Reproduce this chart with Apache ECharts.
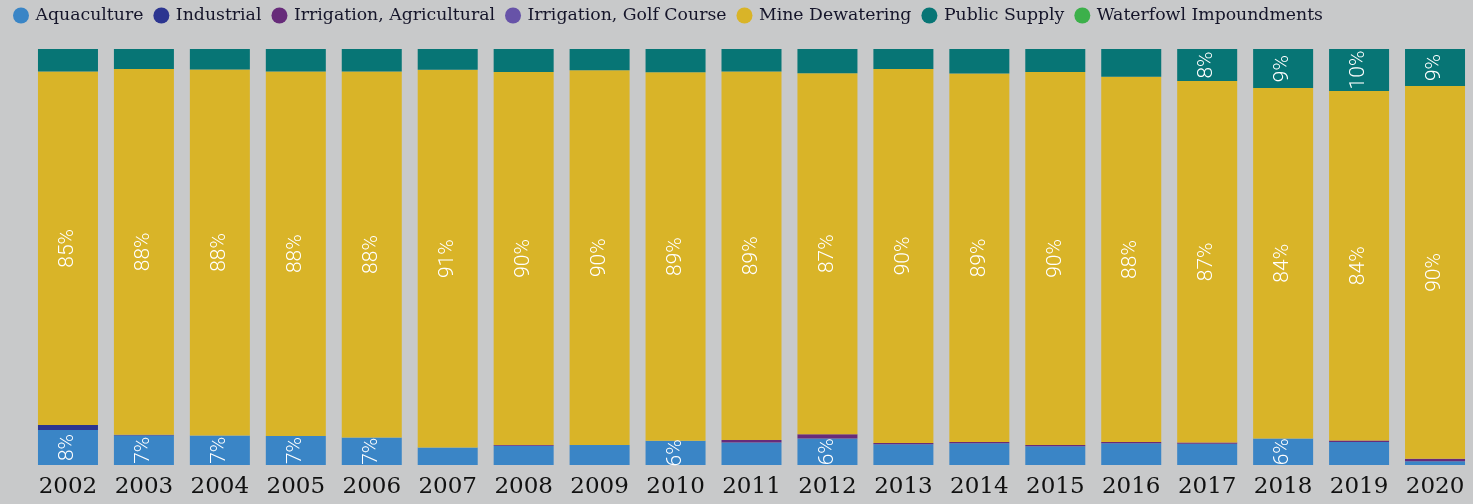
<!DOCTYPE html>
<html>
<head>
<meta charset="utf-8">
<script src="https://cdn.jsdelivr.net/npm/echarts@6/dist/echarts.min.js"></script>
<style>
html,body{margin:0;padding:0;background:#c8c9ca;}
#chart{width:1473px;height:504px;}
</style>
</head>
<body>
<div id="chart"></div>
<script>
const years = ['2002','2003','2004','2005','2006','2007','2008','2009','2010','2011','2012','2013','2014','2015','2016','2017','2018','2019','2020'];
const seriesNames = ['Aquaculture','Industrial','Irrigation, Agricultural','Irrigation, Golf Course','Mine Dewatering','Public Supply','Waterfowl Impoundments'];
// percent share of each use per year
const aquaculture   = [8.4,7.1,7.1,7.0,6.6,4.2,4.6,4.8,5.8,5.4,6.4,5.0,5.2,4.5,5.2,5.1,6.4,5.5,0.9];
const industrial    = [1.2,0.2,0,0,0,0,0,0,0,0,0,0,0,0,0,0,0,0,0];
const irrigationAg  = [0,0,0,0,0,0,0.2,0,0,0.6,1.0,0.3,0.3,0.3,0.3,0.3,0,0.4,0.6];
const irrigationGolf= [0,0,0,0,0,0,0,0,0,0,0,0,0,0,0,0,0,0,0];
const mineDewatering= [85.0,87.9,88.0,87.6,88.0,90.8,89.7,90.1,88.6,88.6,86.8,89.9,88.6,89.7,87.8,86.9,84.2,84.0,89.6];
const publicSupply  = [5.4,4.8,4.9,5.4,5.4,5.0,5.5,5.1,5.6,5.4,5.8,4.8,5.9,5.5,6.7,7.7,9.4,10.1,8.9];
const waterfowl     = [0,0,0,0,0,0,0,0,0,0,0,0,0,0,0,0,0,0,0];
const seriesData = [aquaculture, industrial, irrigationAg, irrigationGolf, mineDewatering, publicSupply, waterfowl];
// smallest share that gets a label, per series
const labelMin = [5.7, 100, 100, 100, 0, 7, 100];
const colors = ['#3a85c6','#2c3590','#672b7a','#6753a8','#d9b428','#077575','#3cb04a'];

const chart = echarts.init(document.getElementById('chart'), null, {renderer:'canvas'});
const ellipse = 'path://M0,10 A10,10 0 1,1 20,10 A10,10 0 1,1 0,10 Z';
chart.setOption({
  backgroundColor: '#c8c9ca',
  animation: false,
  color: colors,
  legend: {
    left: 8, top: 2,
    itemWidth: 23, itemHeight: 16, itemGap: 10,
    icon: ellipse,
    textStyle: { fontFamily: 'DejaVu Serif', fontSize: 17.3, color: '#15152a', padding: [0,0,0,-2] },
    data: seriesNames
  },
  grid: { left: 30, width: 1444, top: 49, bottom: 39 },
  xAxis: {
    type: 'category', data: years,
    axisLine: { show: false }, axisTick: { show: false },
    axisLabel: { interval: 0, hideOverlap: false, margin: 11, fontFamily: 'DejaVu Serif', fontSize: 23, color: '#111' }
  },
  yAxis: { type: 'value', min: 0, max: 100, show: false, splitLine: { show: false } },
  series: seriesNames.map((name, i) => ({
    name, type: 'bar', stack: 'total', barWidth: 60,
    data: seriesData[i],
    itemStyle: { color: colors[i] },
    label: {
      show: true, position: 'inside', rotate: 90,
      fontFamily: 'Roboto', fontWeight: 300, fontSize: 21, color: '#ffffff',
      formatter: p => p.value >= labelMin[i] && p.value > 0 ? Math.round(p.value) + '%' : ''
    }
  }))
});
</script>
</body>
</html>
